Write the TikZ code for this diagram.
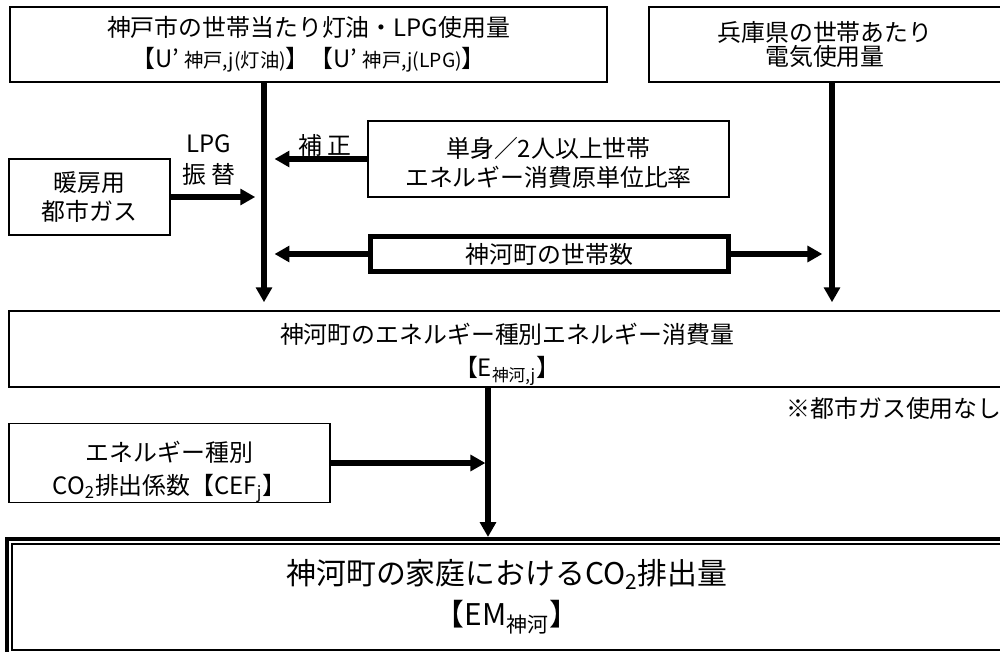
\documentclass[tikz,border=0pt]{standalone}
\usepackage{fontspec}
\setmainfont{Noto Sans CJK JP}
\usetikzlibrary{arrows.meta}
\begin{document}
\begin{tikzpicture}[x=0.02cm,y=-0.02cm]
    \tikzstyle{box}=[draw, line width=1pt, align=center, inner sep=0pt, font=\fontsize{13.6}{16.5}\selectfont]
    \tikzstyle{thickbox}=[box, line width=2.8pt]
    \tikzstyle{arr}=[line width=3pt, -{Triangle[length=8.5pt,width=9pt]}]
    \tikzstyle{lbl}=[align=center, inner sep=0pt, font=\fontsize{13.6}{17.5}\selectfont]
    \useasboundingbox (0,0) rectangle (1000,652);
    \clip (0,0) rectangle (1000,652);
    % trunk positions
    \coordinate (lt) at (264,0);
    \coordinate (rt) at (832,0);
    \coordinate (ct) at (488,0);
    \node[box, minimum width=11.94cm, minimum height=1.5cm] (kobe) at (308.5,44.5)
      {神戸市の世帯当たり灯油・LPG使用量\\[1pt]【U’ {\fontsize{11}{12}\selectfont 神戸,j(灯油)}】【U’ {\fontsize{11}{12}\selectfont 神戸,j(LPG)}】};
    \node[box, minimum width=7.04cm, minimum height=1.5cm, font=\fontsize{13.6}{13.8}\selectfont] (hyogo) at (825,44.5)
      {兵庫県の世帯あたり\\電気使用量};
    \node[box, minimum width=7.22cm, minimum height=1.52cm] (tanshin) at (548.5,159)
      {\rule{0pt}{1.2em}単身／2人以上世帯\\エネルギー消費原単位比率};
    \node[box, minimum width=3.22cm, minimum height=1.52cm] (danbou) at (89.5,197)
      {暖房用\\都市ガス};
    \node[thickbox, minimum width=7.16cm, minimum height=0.7cm] (setai) at (549.5,254)
      {神河町の世帯数};
    \node[box, minimum width=19.92cm, minimum height=1.52cm, font=\fontsize{13.6}{18.5}\selectfont] (shohi) at (507,349)
      {\rule{0pt}{1.3em}神河町のエネルギー種別エネルギー消費量\\【E\textsubscript{神河,j}】};
    \node[box, minimum width=6.42cm, minimum height=1.52cm, font=\fontsize{13.6}{18.5}\selectfont] (cef) at (169.5,463)
      {\rule{0pt}{1.6em}エネルギー種別\\CO\textsubscript{2}排出係数【CEF\textsubscript{j}】};
    \node[box, minimum width=19.8cm, minimum height=2.12cm, font=\fontsize{17}{23}\selectfont] (co2) at (507,597)
      {神河町の家庭におけるCO\textsubscript{2}排出量\\【EM\textsubscript{神河}】};
    \draw[line width=2.2pt] ([shift={(-4,-4)}]co2.north west) rectangle ([shift={(4,4)}]co2.south east);
    \node[lbl] (lpg) at (209,160) {LPG\\振 替};
    \node[lbl] (hosei) at (325,145) {補 正};
    \node[lbl, anchor=east] (note) at (1002,408) {※都市ガス使用なし};
    % connectors
    \draw[arr, shorten >=4.5pt] (kobe.south -| lt) -- (shohi.north -| lt);
    \draw[arr, shorten >=4.5pt] (hyogo.south -| rt) -- (shohi.north -| rt);
    \draw[arr, shorten >=6pt] (tanshin.west) -- (tanshin.west -| lt);
    \draw[arr, shorten >=5pt] (danbou.east) -- (danbou.east -| lt);
    \draw[arr, shorten >=6pt] (setai.west) -- (setai.west -| lt);
    \draw[arr, shorten >=5.5pt] (setai.east) -- (setai.east -| rt);
    \draw[arr, shorten >=1.5pt] (shohi.south -| ct) -- ([yshift=2pt]co2.north -| ct);
    \draw[arr, shorten >=1.5pt] (cef.east) -- (cef.east -| ct);
\end{tikzpicture}
\end{document}
